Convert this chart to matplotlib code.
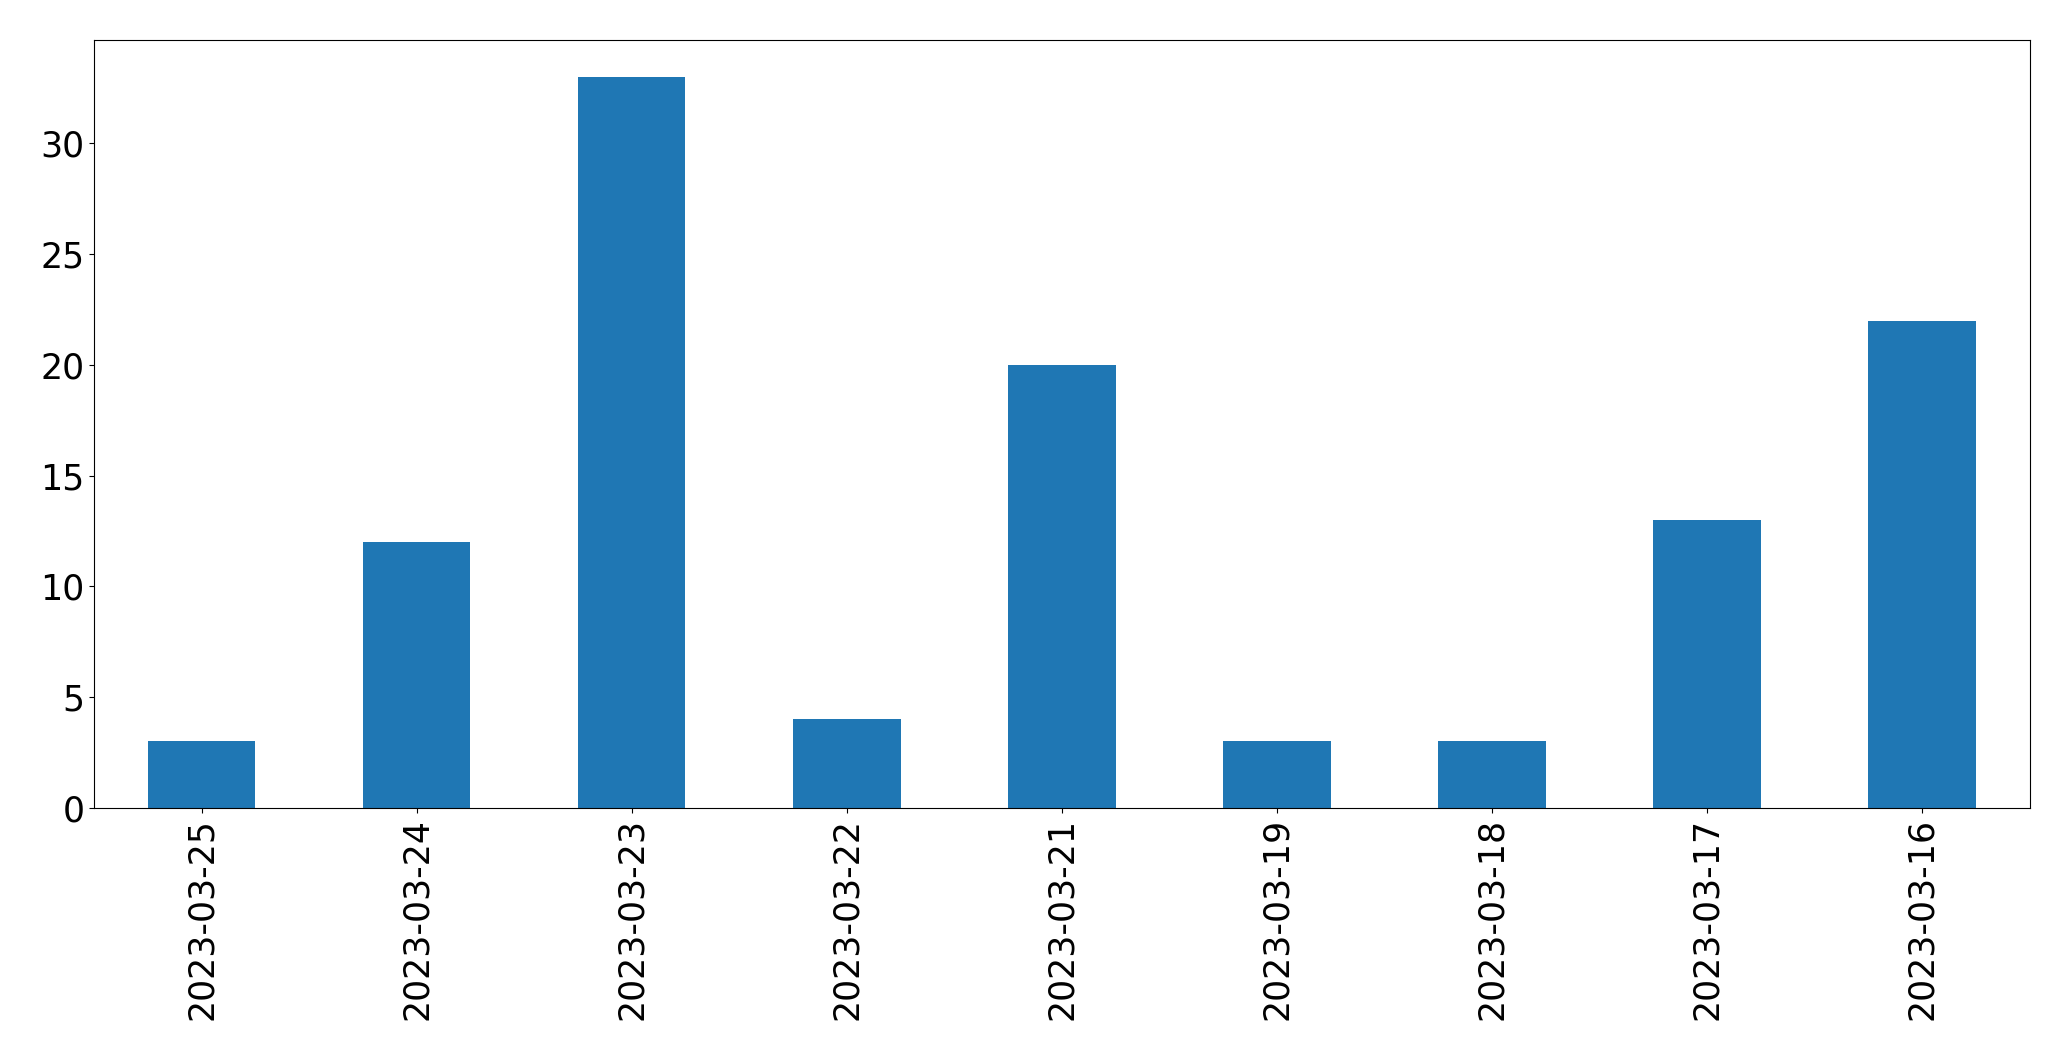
import pandas as pd
import matplotlib
matplotlib.use('Agg')
import matplotlib.pyplot as plt

# daily counts, newest first
dates = ['2023-03-25', '2023-03-24', '2023-03-23', '2023-03-22', '2023-03-21',
         '2023-03-19', '2023-03-18', '2023-03-17', '2023-03-16']
counts = [3, 12, 33, 4, 20, 3, 3, 13, 22]

s = pd.Series(counts, index=dates)

plt.rcParams['font.size'] = 25
fig = plt.figure(figsize=(20.71, 10.61), dpi=100)
ax = fig.add_subplot(111)
s.plot(kind='bar', ax=ax, color='#1f77b4')

fig.subplots_adjust(left=0.0454, right=0.980, top=0.962, bottom=0.2385)
plt.savefig('out.png', dpi=100)
